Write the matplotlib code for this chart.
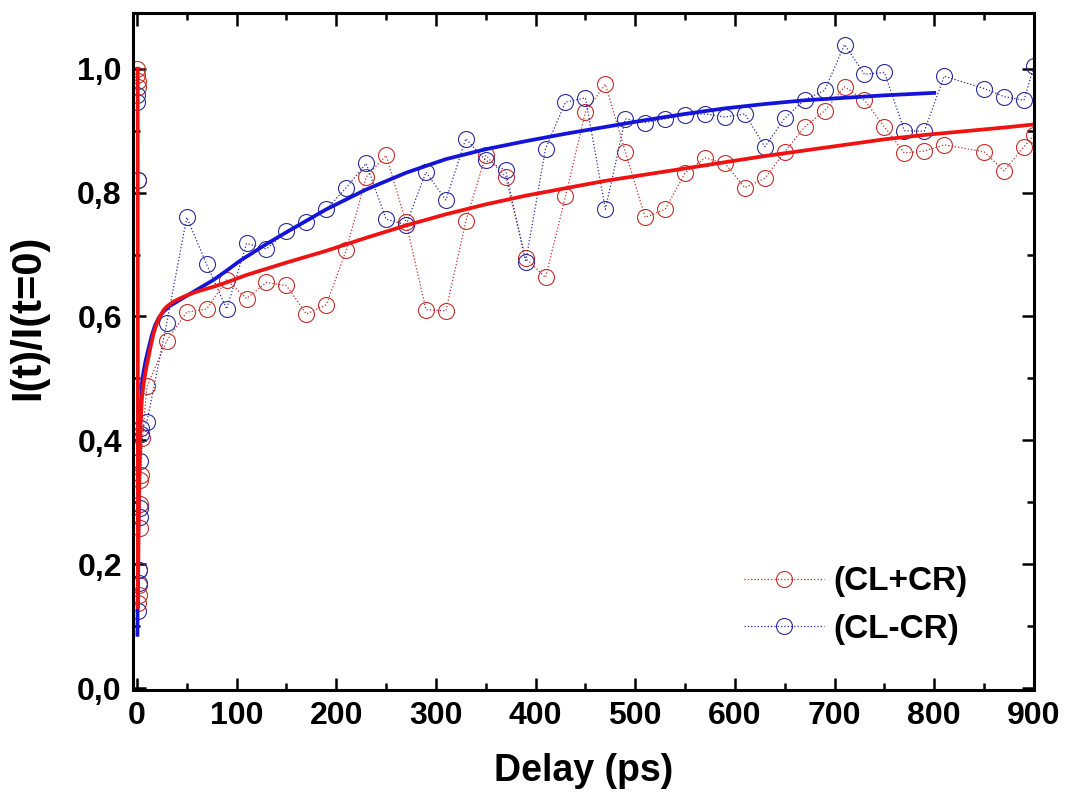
import matplotlib
matplotlib.use("Agg")
import matplotlib.pyplot as plt
from matplotlib.ticker import MultipleLocator, FuncFormatter

plt.rcParams['font.family'] = ['Liberation Sans', 'DejaVu Sans']
plt.rcParams['font.weight'] = 'bold'

# (CL+CR) data, early points near t=0 then 20 ps grid
red_x = [0.0, 0.3, 0.6, 0.9, 1.2, 1.5, 1.8, 2.1, 2.4, 2.7, 3.0, 3.5, 4.0, 5.5,
         10, 30, 50, 70, 90, 110, 130, 150, 170, 190, 210, 230, 250, 270, 290,
         310, 330, 350, 370, 390, 410, 430, 450, 470, 490, 510, 530, 550, 570,
         590, 610, 630, 650, 670, 690, 710, 730, 750, 770, 790, 810,
         850, 870, 890, 900]
red_y = [1.00, 0.99, 0.98, 0.97, 0.82, 0.137, 0.15, 0.167, 0.19, 0.258, 0.298,
         0.336, 0.344, 0.403,
         0.487, 0.561, 0.607, 0.612, 0.659, 0.629, 0.655, 0.650, 0.604, 0.619,
         0.707, 0.825, 0.860, 0.752, 0.611, 0.609, 0.754, 0.860, 0.825, 0.694,
         0.663, 0.794, 0.930, 0.975, 0.866, 0.760, 0.773, 0.832, 0.856, 0.847,
         0.808, 0.823, 0.866, 0.906, 0.932, 0.971, 0.949, 0.906, 0.864, 0.867,
         0.877, 0.866, 0.835, 0.874, 0.893]

# (CL-CR) data
blue_x = [0.0, 0.4, 1.0, 1.5, 2.0, 2.3, 2.6, 3.0, 3.5, 4.0, 4.5,
          10, 30, 50, 70, 90, 110, 130, 150, 170, 190, 210, 230, 250, 270, 290,
          310, 330, 350, 370, 390, 410, 430, 450, 470, 490, 510, 530, 550, 570,
          590, 610, 630, 650, 670, 690, 710, 730, 750, 770, 790, 810,
          850, 870, 890, 900]
blue_y = [0.957, 0.946, 0.82, 0.124, 0.17, 0.19, 0.277, 0.29, 0.366, 0.41, 0.42,
          0.430, 0.590, 0.760, 0.684, 0.612, 0.718, 0.709, 0.738, 0.752, 0.773,
          0.808, 0.847, 0.757, 0.748, 0.833, 0.788, 0.887, 0.852, 0.836, 0.688,
          0.871, 0.946, 0.953, 0.773, 0.919, 0.913, 0.919, 0.925, 0.927, 0.922,
          0.927, 0.874, 0.920, 0.950, 0.965, 1.039, 0.991, 0.994, 0.900, 0.899,
          0.988, 0.968, 0.955, 0.949, 1.004]

# fitted curves
red_fit_x = [0.8, 1.0, 1.6, 2.5, 3.5, 5.0, 7.5, 10, 13.3, 16.6, 20, 23, 26.7,
             30, 36.7, 43, 50, 60, 76.8, 90, 110, 150, 190, 230, 270, 310, 350,
             390, 430, 470, 510, 550, 590, 630, 670, 710, 750, 790, 830, 870, 900]
red_fit_y = [1.0, 0.13, 0.25, 0.35, 0.42, 0.47, 0.50, 0.522, 0.548, 0.572,
             0.589, 0.600, 0.610, 0.616, 0.624, 0.629, 0.634, 0.640, 0.648,
             0.655, 0.667, 0.687, 0.706, 0.727, 0.747, 0.765, 0.781, 0.795,
             0.807, 0.819, 0.829, 0.839, 0.849, 0.859, 0.868, 0.877, 0.886,
             0.893, 0.899, 0.905, 0.910]

blue_fit_x = [0.5, 1.0, 1.8, 3.0, 5.5, 8.5, 11.6, 15, 18.3, 22, 26.7, 33, 43.4,
              60, 76.8, 90, 103.5, 130, 150, 190, 230, 270, 310, 350, 390, 430,
              470, 510, 550, 590, 630, 670, 710, 750, 800]
blue_fit_y = [0.086, 0.2, 0.33, 0.42, 0.50, 0.527, 0.548, 0.570, 0.586, 0.598,
              0.608, 0.617, 0.627, 0.643, 0.659, 0.674, 0.690, 0.717, 0.736,
              0.773, 0.805, 0.832, 0.854, 0.870, 0.883, 0.895, 0.906, 0.917,
              0.927, 0.936, 0.943, 0.949, 0.953, 0.957, 0.961]

fig = plt.figure(figsize=(10.67, 8.05), dpi=100)
ax = fig.add_axes([0.1246, 0.1429, 0.8444, 0.8410])

ax.plot(red_x, red_y, linestyle=":", linewidth=0.9, color="#c32f2b",
        marker="o", markersize=11.5, fillstyle="none", markeredgewidth=0.8,
        label="(CL+CR)")
ax.plot(blue_x, blue_y, linestyle=":", linewidth=0.9, color="#2b2b9c",
        marker="o", markersize=11.5, fillstyle="none", markeredgewidth=0.8,
        label="(CL-CR)")
ax.plot(blue_fit_x, blue_fit_y, color="#1414d8", linewidth=2.7)
ax.plot(red_fit_x, red_fit_y, color="#ee1212", linewidth=2.7)

ax.set_xlim(-4, 900)
ax.set_ylim(-0.003, 1.09)

ax.xaxis.set_major_locator(MultipleLocator(100))
ax.xaxis.set_minor_locator(MultipleLocator(50))
ax.yaxis.set_major_locator(MultipleLocator(0.2))
ax.yaxis.set_minor_locator(MultipleLocator(0.1))
ax.yaxis.set_major_formatter(FuncFormatter(lambda v, p: f"{v:.1f}".replace(".", ",")))

ax.tick_params(which="both", direction="in", top=True, right=True, width=1.8)
ax.tick_params(which="major", length=9, labelsize=23, pad=8)
ax.tick_params(which="minor", length=5)
for s in ax.spines.values():
    s.set_linewidth(2.2)

ax.set_xlabel("Delay (ps)", fontsize=27, fontweight="bold", labelpad=16)
ax.set_ylabel("I(t)/I(t=0)", fontsize=30, fontweight="bold")
ax.yaxis.set_label_coords(-0.094, 0.55)

ax.legend(loc="lower right", bbox_to_anchor=(0.96, 0.022), frameon=False,
          fontsize=24, numpoints=1, handlelength=2.4, handletextpad=0.3,
          labelspacing=0.5)

fig.savefig("out.png", dpi=100)
